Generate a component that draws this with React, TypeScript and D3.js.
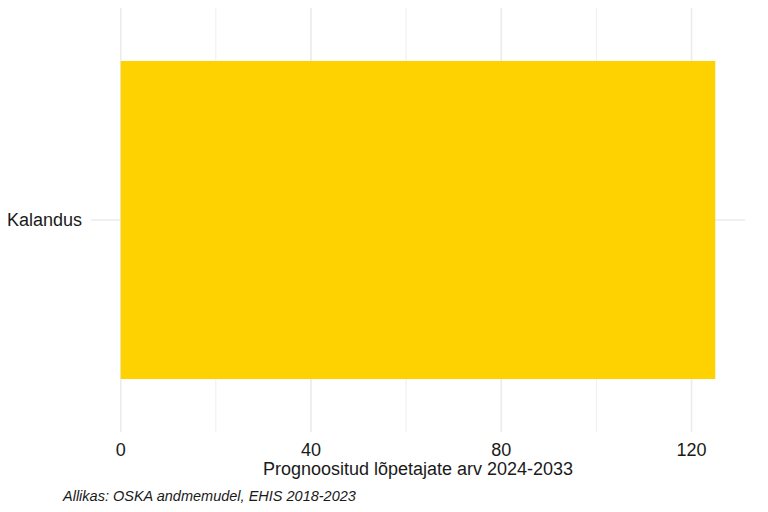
import * as d3 from "d3";

const categories = ["Kalandus"];
const values = [125];
const majorTicks = [0, 40, 80, 120];
const minorTicks = [20, 60, 100];
const xTitle = "Prognoositud lõpetajate arv 2024-2033";
const caption = "Allikas: OSKA andmemudel, EHIS 2018-2023";

const W = 768;
const H = 512;
const panel = { left: 91, right: 745, top: 8, bottom: 432 };
const font = "'Liberation Sans', Arial, sans-serif";

export default function App() {
  const maxV = d3.max(values) ?? 0;
  const pad = maxV * 0.05;
  const x = d3
    .scaleLinear()
    .domain([-pad, maxV + pad])
    .range([panel.left, panel.right]);

  const y = d3
    .scaleBand<string>()
    .domain(categories)
    .range([panel.top, panel.bottom])
    .paddingInner(0.1)
    .paddingOuter(0.15);

  return (
    <svg
      width={W}
      height={H}
      viewBox={`0 0 ${W} ${H}`}
      style={{ position: "absolute", left: 0, top: 0, display: "block", background: "#fff" }}
      fontFamily={font}
    >
      {/* minor grid */}
      {minorTicks.map((t) => (
        <line
          key={`mn-${t}`}
          x1={x(t)}
          x2={x(t)}
          y1={panel.top}
          y2={panel.bottom}
          stroke="#ebebeb"
          strokeWidth={0.8}
        />
      ))}
      {/* major grid */}
      {majorTicks.map((t) => (
        <line
          key={`mj-${t}`}
          x1={x(t)}
          x2={x(t)}
          y1={panel.top}
          y2={panel.bottom}
          stroke="#ebebeb"
          strokeWidth={1.6}
        />
      ))}
      {categories.map((c) => (
        <line
          key={`yg-${c}`}
          x1={panel.left}
          x2={panel.right}
          y1={(y(c) ?? 0) + y.bandwidth() / 2}
          y2={(y(c) ?? 0) + y.bandwidth() / 2}
          stroke="#ebebeb"
          strokeWidth={1.6}
        />
      ))}

      {/* bars */}
      {categories.map((c, i) => (
        <rect
          key={c}
          x={x(0)}
          y={y(c)}
          width={x(values[i]) - x(0)}
          height={y.bandwidth()}
          fill="#fdd200"
        />
      ))}

      {/* y labels */}
      {categories.map((c) => (
        <text
          key={`yl-${c}`}
          x={panel.left - 9}
          y={(y(c) ?? 0) + y.bandwidth() / 2}
          dy="0.35em"
          textAnchor="end"
          fontSize={18}
          fill="#1a1a1a"
        >
          {c}
        </text>
      ))}

      {/* x tick labels */}
      {majorTicks.map((t) => (
        <text
          key={`xl-${t}`}
          x={x(t)}
          y={456}
          textAnchor="middle"
          fontSize={18}
          fill="#1a1a1a"
        >
          {t}
        </text>
      ))}

      <text
        x={(panel.left + panel.right) / 2}
        y={475}
        textAnchor="middle"
        fontSize={18}
        fill="#1a1a1a"
      >
        {xTitle}
      </text>

      <text x={63} y={501} fontSize={14.5} fontStyle="italic" fill="#1a1a1a">
        {caption}
      </text>
    </svg>
  );
}
